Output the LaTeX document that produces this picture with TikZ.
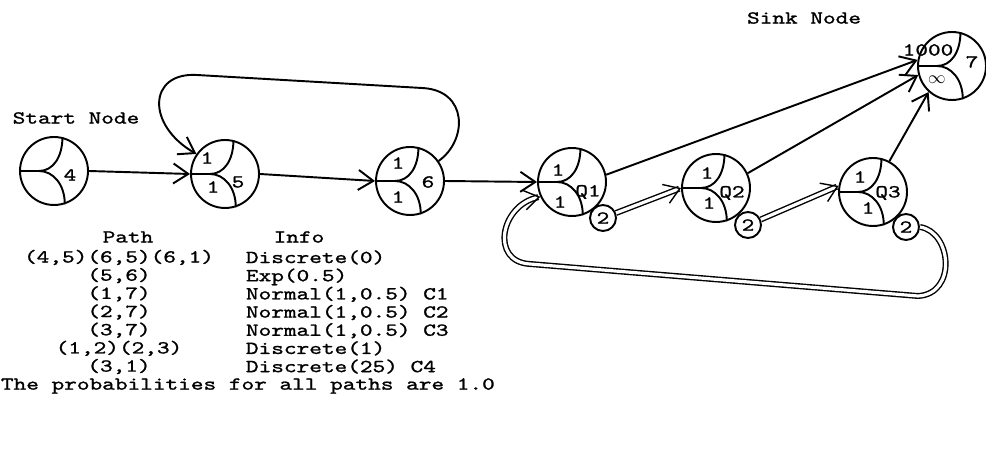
\documentclass[tikz,border=0pt]{standalone}
\usepackage{fontspec}
\setmonofont[FakeStretch=1.32, FakeBold=1.2]{lmmono10-regular.otf}
\usetikzlibrary{arrows.meta}

\tikzset{
	splitnode/.style = {draw, circle, minimum size = 1.36cm, inner sep = 0pt},
	tinynode/.style = {draw, circle, minimum size = 0.52cm, inner sep = 0pt,
		font = \ttfamily\fontsize{10.4}{10.35}\selectfont},
	txt/.style = {inner sep = 0pt, font = \ttfamily\fontsize{10.4}{10.35}\selectfont},
	flow/.style = {->},
	dflow/.style = {->, double, line width = 0.8pt, double distance = 1.8pt}
}

% the two arcs that split a node in three
\newcommand{\splitarcs}[1]{%
	\draw (#1.west) -- ++(20,0) coordinate (#1j);
	\draw (#1j) .. controls +(14,0) and +(0,20) .. (#1.76);
	\draw (#1j) .. controls +(14,0) and +(0,-20) .. (#1.-72);
}

\begin{document}
\begin{tikzpicture}[x = 0.02cm, y = -0.02cm, line width = 1.1pt,
	>={Straight Barb[length = 3mm, width = 4mm]}]

	\useasboundingbox (0,0) rectangle (986,455);

	% nodes
	\node[splitnode](n4) at (54,171){};
	\node[splitnode](n5) at (225,174){};
	\node[splitnode](n6) at (410,181){};
	\node[splitnode](q1) at (572,182){};
	\node[splitnode](q2) at (716,188){};
	\node[splitnode](q3) at (873,192){};
	\node[splitnode](n7) at (952,66){};

	\splitarcs{n4}
	\splitarcs{n5}
	\splitarcs{n6}
	\splitarcs{q1}
	\splitarcs{q2}
	\splitarcs{q3}
	\splitarcs{n7}

	\node[tinynode](t1) at (603,218){2};
	\node[tinynode](t2) at (748,225){2};
	\node[tinynode](t3) at (906,227){2};

	% numbers in the nodes
	\node[txt](l4) at (70,175){4};
	\node[txt](l5a) at (207,158){1};
	\node[txt](l5b) at (213,187){1};
	\node[txt](l5c) at (238,182){5};
	\node[txt](l6a) at (398,163){1};
	\node[txt](l6b) at (398,197){1};
	\node[txt](l6c) at (428,182){6};
	\node[txt](lq1a) at (558,170){1};
	\node[txt](lq1b) at (560,202){1};
	\node[txt](lq1c) at (588,192){Q1};
	\node[txt](lq2a) at (707,173){1};
	\node[txt](lq2b) at (709,203){1};
	\node[txt](lq2c) at (732,193){Q2};
	\node[txt](lq3a) at (860,177){1};
	\node[txt](lq3b) at (868,208){1};
	\node[txt](lq3c) at (888,193){Q3};
	\node[txt](l7a) at (928,50){1000};
	\node[txt](l7b) at (937,80){$\infty$};
	\node[txt](l7c) at (972,62){7};

	\node[txt](start) at (76,118){Start Node};
	\node[txt, anchor = east](sink) at (862,18){Sink Node};

	% connectors
	\draw[flow] (n4.east) -- (n5.west);
	\draw[flow] (n5.east) -- (n6.west);
	\draw[flow] (n6.east) -- (q1.west);
	\draw[flow] (n6.35) .. controls (468,140) and (468,90) .. (422,88)
		-- (197,75) .. controls (148,72) and (146,125) .. (n5.145);

	\draw[flow] (q1.12) -- (n7.170);
	\draw[flow] (q2.25) -- (n7.195);
	\draw[flow] (q3.62) -- (n7.228);

	\draw[dflow] (t1) -- (q2.west);
	\draw[dflow] (t2) -- (q3.170);
	\draw[dflow] (t3.east) .. controls (952,232) and (957,294) .. (918,296)
		-- (530,264) .. controls (490,262) and (500,205) .. (q1.205);

	% table
	\node[txt](hpath) at (128,237){Path};
	\node[txt](hinfo) at (299,237){Info};
	\node[txt, align = center](paths) at (119,312){(4,5)(6,5)(6,1)\\(5,6)\\(1,7)\\(2,7)\\(3,7)\\(1,2)(2,3)\\(3,1)};
	\node[txt, align = left, anchor = west](infos) at (245,312){Discrete(0)\\Exp(0.5)\\Normal(1,0.5) C1\\Normal(1,0.5) C2\\Normal(1,0.5) C3\\Discrete(1)\\Discrete(25) C4};
	\node[txt, anchor = west](note) at (0,386){The probabilities for all paths are 1.0};

\end{tikzpicture}
\end{document}
